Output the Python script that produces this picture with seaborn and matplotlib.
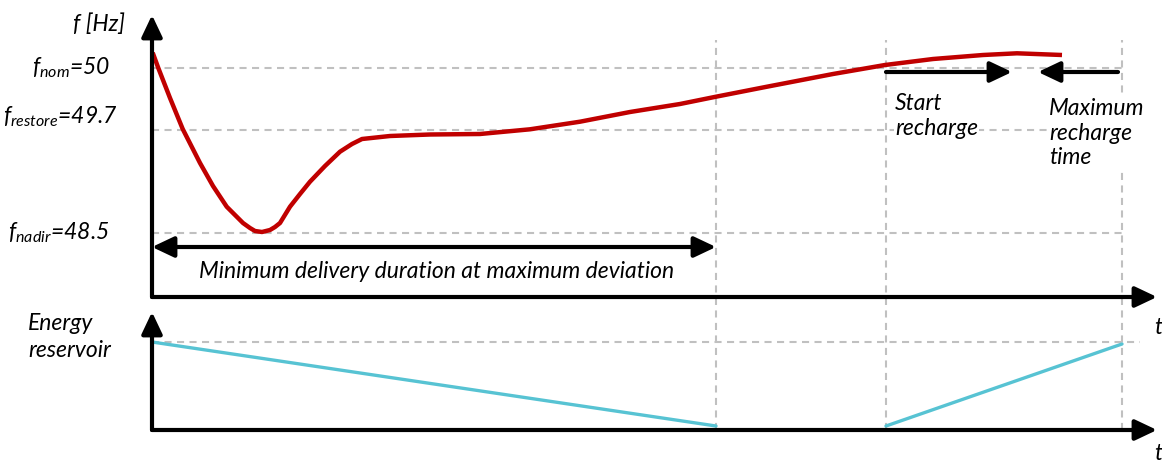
import matplotlib
matplotlib.use("Agg")
import matplotlib.pyplot as plt
import seaborn as sns
import pandas as pd

# ---------------- data (schematic units) ----------------
# frequency trace: time (t) vs height on the schematic frequency axis
freq_t = [0.7, 6.3, 18, 30.7, 48, 61, 74.7, 84, 91, 98, 103, 110, 118, 123, 128, 138,
          148, 158, 173, 188, 200, 210, 238, 278, 328, 378, 428, 478, 528, 564, 615,
          681, 733, 781, 831, 865, 910]
freq_y = [244.3, 229, 199, 168, 134, 111, 90.3, 81, 74, 69, 66, 65, 67, 70, 74, 90.3,
          103, 115.3, 131, 145.3, 153, 158, 161, 162.5, 163, 167.7, 175.3, 185, 193,
          200.3, 210.3, 223, 232, 238, 242, 243.7, 242]

# energy reservoir: discharge and recharge segments
discharge_t = [0, 564]
discharge_y = [88, 4]
recharge_t = [734, 970]
recharge_y = [4, 86]

# reference levels on frequency axis and their labels
level_y = [229, 167, 64]
level_labels = [r"$f_{nom}$=50", r"$f_{restore}$=49.7", r"$f_{nadir}$=48.5"]
energy_full = 88

# event times
t_delivery_end = 564
t_start_recharge = 734
t_max_recharge = 970

# ---------------- styling ----------------
sns.set_theme(style="white")
plt.rcParams["font.family"] = ["Lato", "DejaVu Sans"]
plt.rcParams["mathtext.fontset"] = "custom"
plt.rcParams["mathtext.it"] = "Lato:italic"
plt.rcParams["mathtext.rm"] = "Lato:italic"

W, H = 1162, 465
fig = plt.figure(figsize=(W / 100, H / 100), dpi=100)
fig.patch.set_facecolor("white")


def px_axes(x0, y0, x1, y1):
    return fig.add_axes([x0 / W, 1 - y1 / H, (x1 - x0) / W, (y1 - y0) / H])


ax1 = px_axes(152, 15, 1157, 297)
ax2 = px_axes(152, 312, 1157, 430)
ax1.set_xlim(0, 1005)
ax1.set_ylim(0, 282)
ax2.set_xlim(0, 1005)
ax2.set_ylim(0, 118)

RED = "#C00000"
CYAN = "#57C3D3"
GRID = "#C0C0C0"
dash = dict(color=GRID, lw=1.5, linestyle=(0, (3.4, 2.6)))

# dashed guides
for y in level_y:
    ax1.hlines(y, 0, t_max_recharge, zorder=1, **dash)
ax1.vlines([t_delivery_end, t_start_recharge, t_max_recharge], -133, 257,
           clip_on=False, zorder=1, **dash)
ax2.hlines(energy_full, 0, 988, zorder=1, **dash)

# curves
df_f = pd.DataFrame({"t": freq_t, "f": freq_y})
sns.lineplot(data=df_f, x="t", y="f", ax=ax1, color=RED, lw=3.2, sort=False,
             zorder=3, solid_capstyle="butt", solid_joinstyle="round")
df_d = pd.DataFrame({"t": discharge_t, "e": discharge_y})
df_r = pd.DataFrame({"t": recharge_t, "e": recharge_y})
sns.lineplot(data=df_d, x="t", y="e", ax=ax2, color=CYAN, lw=2.4, zorder=3)
sns.lineplot(data=df_r, x="t", y="e", ax=ax2, color=CYAN, lw=2.4, zorder=3)
for ax in (ax1, ax2):
    ax.set_axis_off()


def arrow(ax, start, end, style="-|>", coords="axes fraction"):
    ax.annotate("", xy=end, xytext=start, xycoords=coords, textcoords=coords,
                annotation_clip=False, zorder=5,
                arrowprops=dict(arrowstyle=style + ",head_length=0.95,head_width=0.45",
                                lw=3, color="black", mutation_scale=14,
                                shrinkA=0, shrinkB=0))


# axis arrows
for ax in (ax1, ax2):
    arrow(ax, (0, 0), (1, 0))
    arrow(ax, (0, 0), (0, 1))

# annotation arrows
arrow(ax1, (0, 50), (t_delivery_end, 50), style="<|-|>", coords="data")
arrow(ax1, (t_start_recharge, 225), (860, 225), coords="data")
arrow(ax1, (966, 225), (886, 225), coords="data")

FS = 16.5
tkw = dict(fontsize=FS, style="italic", color="black")

# y labels
ax1.text(-53, 273, "f [Hz]", ha="center", va="center", **tkw)
ax1.text(-42, 229, level_labels[0], ha="right", va="center", **tkw)
ax1.text(-34, 180, level_labels[1], ha="right", va="center", **tkw)
ax1.text(-43, 64, level_labels[2], ha="right", va="center", **tkw)

ax1.text(t_delivery_end / 2 + 3, 25, "Minimum delivery duration at maximum deviation",
         ha="center", va="center", **tkw)
ax1.text(743, 181, "Start\nrecharge", ha="left", va="center", linespacing=1.22, zorder=4,
         bbox=dict(facecolor="white", edgecolor="none", pad=1), **tkw)
ax1.text(897, 164, "Maximum\nrecharge\ntime", ha="left", va="center", linespacing=1.2,
         zorder=4, bbox=dict(facecolor="white", edgecolor="none", pad=1), **tkw)
ax1.text(1006, -30, "t", ha="center", va="center", **tkw)
ax2.text(1006, -23, "t", ha="center", va="center", **tkw)
ax2.text(-124, 93, "Energy\nreservoir", ha="left", va="center", linespacing=1.3, **tkw)

fig.savefig("out.png", dpi=100, facecolor="white")
